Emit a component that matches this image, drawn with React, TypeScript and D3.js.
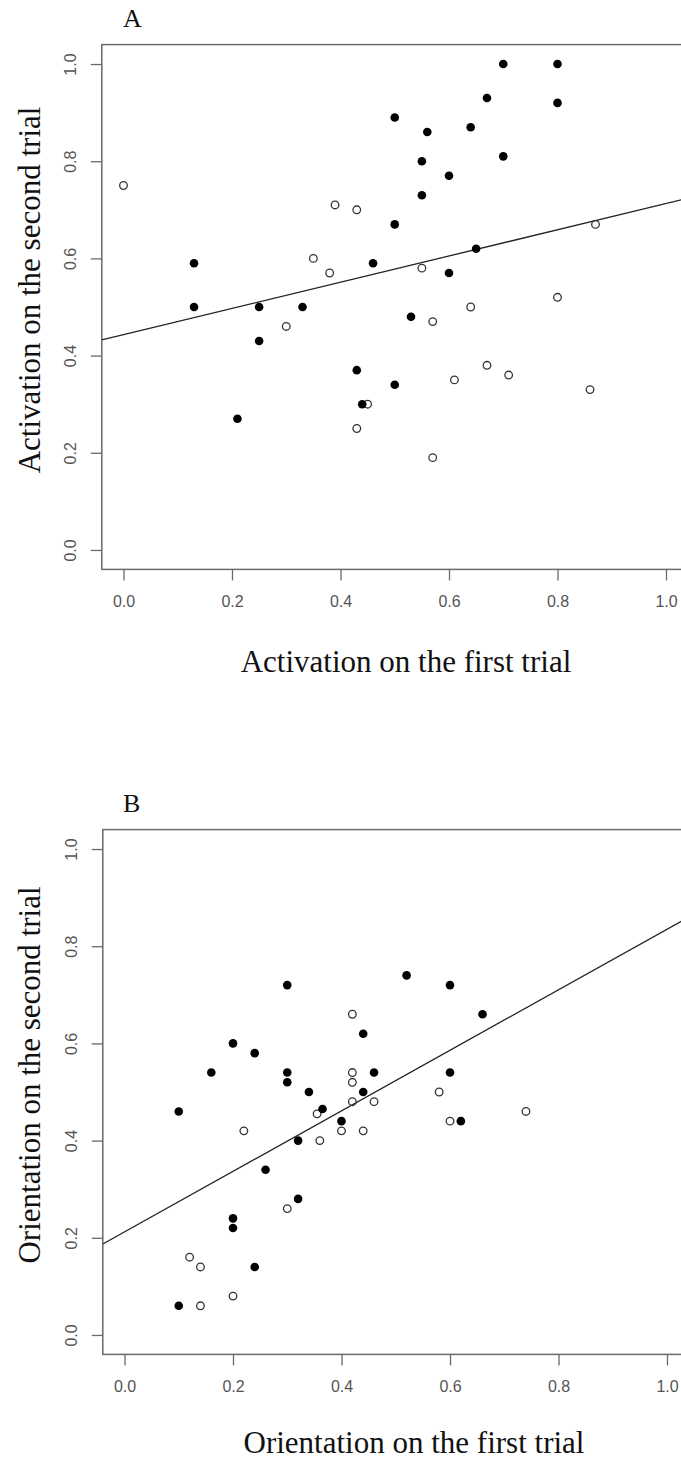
import React, { useRef, useEffect } from 'react';
import * as d3 from 'd3';

// tick positions shared by both panels
const tickValues = [0, 0.2, 0.4, 0.6, 0.8, 1.0];

// panel A: activation (first trial, second trial)
const activationFilled: [number, number][] = [
  [0.13, 0.59], [0.13, 0.50], [0.21, 0.27], [0.25, 0.50], [0.25, 0.43],
  [0.33, 0.50], [0.43, 0.37], [0.44, 0.30], [0.46, 0.59], [0.50, 0.89],
  [0.50, 0.67], [0.50, 0.34], [0.53, 0.48], [0.55, 0.80], [0.55, 0.73],
  [0.56, 0.86], [0.60, 0.77], [0.60, 0.57], [0.64, 0.87], [0.65, 0.62],
  [0.67, 0.93], [0.70, 1.00], [0.70, 0.81], [0.80, 1.00], [0.80, 0.92],
];
const activationOpen: [number, number][] = [
  [0.00, 0.75], [0.30, 0.46], [0.35, 0.60], [0.38, 0.57], [0.39, 0.71],
  [0.43, 0.70], [0.43, 0.25], [0.45, 0.30], [0.55, 0.58], [0.57, 0.47],
  [0.57, 0.19], [0.61, 0.35], [0.64, 0.50], [0.67, 0.38], [0.71, 0.36],
  [0.80, 0.52], [0.86, 0.33], [0.87, 0.67],
];
const activationFit = [0.443, 0.27]; // intercept, slope

// panel B: orientation (first trial, second trial)
const orientationFilled: [number, number][] = [
  [0.10, 0.46], [0.10, 0.06], [0.16, 0.54], [0.20, 0.60], [0.20, 0.24],
  [0.20, 0.22], [0.24, 0.58], [0.24, 0.14], [0.26, 0.34], [0.30, 0.72],
  [0.30, 0.54], [0.30, 0.52], [0.32, 0.40], [0.32, 0.28], [0.34, 0.50],
  [0.365, 0.465], [0.40, 0.44], [0.44, 0.62], [0.44, 0.50], [0.46, 0.54],
  [0.52, 0.74], [0.60, 0.72], [0.60, 0.54], [0.62, 0.44], [0.66, 0.66],
];
const orientationOpen: [number, number][] = [
  [0.12, 0.16], [0.14, 0.14], [0.14, 0.06], [0.20, 0.08], [0.22, 0.42],
  [0.30, 0.26], [0.355, 0.455], [0.36, 0.40], [0.40, 0.42], [0.42, 0.66],
  [0.42, 0.54], [0.42, 0.52], [0.42, 0.48], [0.44, 0.42], [0.46, 0.48],
  [0.58, 0.50], [0.60, 0.44], [0.74, 0.46],
];
const orientationFit = [0.212, 0.623];

const panels = [
  {
    letter: 'A',
    xTitle: 'Activation on the first trial',
    yTitle: 'Activation on the second trial',
    filled: activationFilled,
    open: activationOpen,
    fit: activationFit,
    top: 0,
    shift: 0,
    xTitleX: 406,
    xTitleY: 672,
  },
  {
    letter: 'B',
    xTitle: 'Orientation on the first trial',
    yTitle: 'Orientation on the second trial',
    filled: orientationFilled,
    open: orientationOpen,
    fit: orientationFit,
    top: 785,
    shift: 1,
    xTitleX: 414,
    xTitleY: 668,
  },
];

const SERIF = '"Liberation Serif", "Times New Roman", serif';
const SANS = '"Liberation Sans", Arial, sans-serif';
const AXIS = '#6a6a6a';

const App: React.FC = () => {
  const svgRef = useRef<SVGSVGElement>(null);

  useEffect(() => {
    if (!svgRef.current) return;
    const svg = d3.select(svgRef.current);
    svg.selectAll('*').remove();

    panels.forEach(p => {
      const x = d3.scaleLinear().domain([-0.04, 1.04]).range([101.8 + p.shift, 687.7 + p.shift]);
      const y = d3.scaleLinear().domain([-0.04, 1.04]).range([569.4 + p.top, 44.6 + p.top]);
      const [x0, x1] = x.range();
      const [y0, y1] = y.range();

      const g = svg.append('g');

      g.append('clipPath')
        .attr('id', `clip-${p.letter}`)
        .append('rect')
        .attr('x', x0).attr('y', y1)
        .attr('width', x1 - x0).attr('height', y0 - y1);

      // axes
      const xAxis = g.append('g')
        .attr('transform', `translate(0,${y0})`)
        .call(d3.axisBottom(x).tickValues(tickValues).tickFormat(d3.format('.1f')).tickSize(11).tickPadding(15.6));
      const yAxis = g.append('g')
        .attr('transform', `translate(${x0},0)`)
        .call(d3.axisLeft(y).tickValues(tickValues).tickFormat(d3.format('.1f')).tickSize(11));

      [xAxis, yAxis].forEach(a => {
        a.select('.domain').remove();
        a.selectAll('line').attr('stroke', AXIS).attr('stroke-width', 1.3);
        a.selectAll('text')
          .attr('fill', '#555')
          .attr('font-family', SANS)
          .attr('font-size', 16);
      });
      yAxis.selectAll('text')
        .attr('x', null)
        .attr('dy', null)
        .attr('text-anchor', 'middle')
        .attr('transform', 'translate(-25.8,0) rotate(-90)');

      // frame
      g.append('rect')
        .attr('x', x0).attr('y', y1)
        .attr('width', x1 - x0).attr('height', y0 - y1)
        .attr('fill', 'none')
        .attr('stroke', AXIS)
        .attr('stroke-width', 1.5);

      // regression line
      const line = d3.line<number>()
        .x(d => x(d))
        .y(d => y(p.fit[0] + p.fit[1] * d));
      g.append('path')
        .attr('d', line([-0.04, 1.04]))
        .attr('clip-path', `url(#clip-${p.letter})`)
        .attr('fill', 'none')
        .attr('stroke', '#222')
        .attr('stroke-width', 1.3);

      // points
      g.selectAll('.open')
        .data(p.open)
        .enter().append('circle')
        .attr('class', 'open')
        .attr('cx', d => x(d[0]))
        .attr('cy', d => y(d[1]))
        .attr('r', 3.8)
        .attr('fill', 'none')
        .attr('stroke', '#333')
        .attr('stroke-width', 1.3);

      g.selectAll('.filled')
        .data(p.filled)
        .enter().append('circle')
        .attr('class', 'filled')
        .attr('cx', d => x(d[0]))
        .attr('cy', d => y(d[1]))
        .attr('r', 4.3)
        .attr('fill', '#000');

      // text
      g.append('text')
        .attr('x', 123)
        .attr('y', 26.7 + p.top)
        .attr('font-family', SERIF)
        .attr('font-size', 26)
        .attr('fill', '#111')
        .text(p.letter);

      g.append('text')
        .attr('x', p.xTitleX)
        .attr('y', p.xTitleY + p.top)
        .attr('text-anchor', 'middle')
        .attr('font-family', SERIF)
        .attr('font-size', 31)
        .attr('fill', '#111')
        .text(p.xTitle);

      g.append('text')
        .attr('transform', `translate(40,${290 + p.top}) rotate(-90)`)
        .attr('text-anchor', 'middle')
        .attr('font-family', SERIF)
        .attr('font-size', 31)
        .attr('fill', '#111')
        .text(p.yTitle);
    });
  }, []);

  return (
    <svg
      ref={svgRef}
      width={681}
      height={1460}
      style={{ position: 'absolute', left: 0, top: 0, background: '#fff' }}
    ></svg>
  );
};

export default App;
